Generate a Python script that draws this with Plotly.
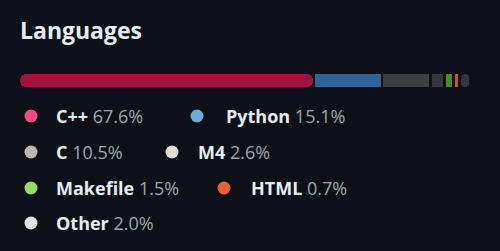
import plotly.graph_objects as go

# ---- data ----
languages = ["C++", "Python", "C", "M4", "Makefile", "HTML", "Other"]
percents = [67.6, 15.1, 10.5, 2.6, 1.5, 0.7, 2.0]
bar_colors = ["#a3103c", "#2f6499", "#3d4043", "#34383c", "#4d8a22", "#d0502a", "#33373b"]
dot_colors = ["#f04b7f", "#6fa9dc", "#bfb6ad", "#e2ded8", "#94db6c", "#e8603a", "#e4e4e4"]

# ---- legend layout (pixel positions of dot centre / text start, row centre) ----
dot_x = [31, 197, 31, 172, 31, 224, 31]
text_x = [57, 227, 57, 199, 57, 252, 57]
row_y = [116, 116, 152, 152, 188, 188, 223]

BG = "#0d1117"
W, H = 500, 251
BAR_LEFT, BAR_RIGHT = 20, 472          # pixel extent of the bar area
PX_PER_PCT = 4.33                      # bar scale
GAP_PX = 2.7                           # gap between segments
gap_units = GAP_PX / PX_PER_PCT
x_max = (BAR_RIGHT - BAR_LEFT) / PX_PER_PCT

fig = go.Figure()

bases, vals, radii = [], [], []
start = 0.0
n = len(languages)
for i, p in enumerate(percents):
    if i == 0:
        # first segment drawn from its far end back so its rounded end sits on the left
        bases.append(start + p); vals.append(-p); radii.append(6)
    else:
        bases.append(start); vals.append(p); radii.append(6 if i == n - 1 else 0)
    start += p + gap_units

for name, b, v, r, c in zip(languages, bases, vals, radii, bar_colors):
    fig.add_trace(go.Bar(
        x=[v], y=["bar"], base=[b], orientation="h", name=name,
        marker=dict(color=c, line=dict(width=0), cornerradius=r),
        showlegend=False, hoverinfo="skip",
    ))

# legend dots on pixel axes
fig.add_trace(go.Scatter(
    x=dot_x, y=row_y, mode="markers", xaxis="x2", yaxis="y2",
    marker=dict(size=13, color=dot_colors, line=dict(width=0)),
    showlegend=False, hoverinfo="skip",
))

annotations = [dict(
    text="<b>Languages</b>", x=18 / W, y=1 - 30 / H, xref="paper", yref="paper",
    xanchor="left", yanchor="middle", showarrow=False,
    font=dict(family="Open Sans", size=23, color="#e6edf3"),
)]
for name, p, tx, ry in zip(languages, percents, text_x, row_y):
    annotations.append(dict(
        text=f"<b>{name}</b> <span style='color:#9ea6ae'>{p:.1f}%</span>",
        x=(tx - 3) / W, y=1 - ry / H, xref="paper", yref="paper",
        xanchor="left", yanchor="middle", showarrow=False,
        font=dict(family="Open Sans", size=18, color="#e6edf3"),
    ))

fig.update_layout(
    width=W, height=H, margin=dict(l=0, r=0, t=0, b=0),
    paper_bgcolor=BG, plot_bgcolor="rgba(0,0,0,0)",
    barmode="overlay", bargap=0,
    xaxis=dict(domain=[BAR_LEFT / W, BAR_RIGHT / W], range=[0, x_max], visible=False, fixedrange=True),
    yaxis=dict(domain=[1 - 87 / H, 1 - 74 / H], range=[-0.5, 0.5], visible=False, fixedrange=True),
    xaxis2=dict(domain=[0, 1], range=[0, W], visible=False, anchor="y2", fixedrange=True),
    yaxis2=dict(domain=[0, 1], range=[H, 0], visible=False, anchor="x2", fixedrange=True),
    annotations=annotations,
    showlegend=False,
)

fig.write_html("out.html")
